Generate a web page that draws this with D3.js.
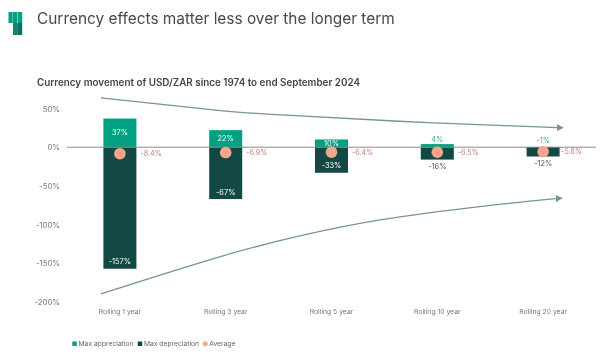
<!DOCTYPE html>
<html lang="en">

<head>
    <meta charset="UTF-8">
    <script src="https://d3js.org/d3.v7.min.js"></script>
    <title>Currency effects</title>
    <style>
        body {
            margin: 0;
            background: #fff;
        }

        svg {
            display: block;
            filter: blur(0.3px);
        }

        text {
            font-family: Inter, "Noto Sans", sans-serif;
        }
    </style>
</head>

<body>
    <div id="container"></div>
    <script>
        var categories = ["Rolling 1 year", "Rolling 3 year", "Rolling 5 year", "Rolling 10 year", "Rolling 20 year"]
        var maxAppreciation = [37, 22, 10, 4, -1]
        var maxDepreciation = [-157, -67, -33, -16, -12]
        var average = [-8.4, -6.9, -6.4, -6.5, -5.8]
        var yTicks = [50, 0, -50, -100, -150, -200]

        // trend arrows: [category position, percent]
        var upperTrend = [[-0.18, 63.7], [0.95, 47.3], [1.7, 40.4], [2.96, 31.4], [4.13, 25.3]]
        var lowerTrend = [[-0.18, -189.5], [0.95, -141.3], [1.7, -114.6], [2.46, -93.9], [3.4, -76.7], [4.12, -66.4]]

        var legendNames = ["Max appreciation", "Max depreciation", "Average"]

        var green = "#00a082", dark = "#134845", peach = "#f7a68c", arrow = "#75968f"
        var width = 602, height = 358

        var svg = d3.select("#container")
            .append("svg")
            .attr("width", width)
            .attr("height", height)

        // logo
        var logo = svg.append("g")
        logo.append("rect").attr("x", 8.5).attr("y", 12).attr("width", 4.2).attr("height", 11).attr("fill", green)
        logo.append("rect").attr("x", 13).attr("y", 12).attr("width", 4.2).attr("height", 11).attr("fill", green)
        logo.append("rect").attr("x", 17.6).attr("y", 12).attr("width", 4.6).attr("height", 11).attr("fill", green)
        logo.append("rect").attr("x", 13).attr("y", 23).attr("width", 4.2).attr("height", 12).attr("fill", "#0f8570")
        logo.append("rect").attr("x", 17.2).attr("y", 23).attr("width", 5).attr("height", 12).attr("fill", "#0c6f60")

        svg.append("text").attr("x", 37).attr("y", 23.5)
            .attr("font-size", 15.4).attr("fill", "#444b4d")
            .text("Currency effects matter less over the longer term")
        svg.append("text").attr("x", 37).attr("y", 85.5)
            .attr("font-size", 9.85).attr("font-weight", 600).attr("fill", "#3f4647")
            .text("Currency movement of USD/ZAR since 1974 to end September 2024")

        var x = d3.scaleBand().domain(categories).range([67, 596]).paddingInner(0.688).paddingOuter(0.344)
        var y = d3.scaleLinear().domain([-200, 50]).range([302, 108.5])
        var pos = d3.scaleLinear().domain([0, 4]).range([x(categories[0]) + x.bandwidth() / 2, x(categories[4]) + x.bandwidth() / 2])

        // y axis
        var yAxis = d3.axisLeft(y).tickValues(yTicks).tickSize(0).tickPadding(1).tickFormat(function (d) { return d + "%" })
        var yG = svg.append("g").attr("transform", "translate(61,0)").call(yAxis)
        yG.select(".domain").remove()
        yG.selectAll("text").attr("font-size", 7.8).attr("fill", "#777")

        // x axis labels
        var xAxis = d3.axisBottom(x).tickSize(0).tickPadding(0)
        var xG = svg.append("g").attr("transform", "translate(0,309)").call(xAxis)
        xG.select(".domain").remove()
        xG.selectAll("text").attr("font-size", 6.8).attr("fill", "#777")

        // bars
        svg.selectAll(".up").data(maxAppreciation).enter().append("rect")
            .attr("class", "up")
            .attr("x", function (d, i) { return x(categories[i]) })
            .attr("y", function (d) { return Math.min(y(d), y(0)) })
            .attr("width", x.bandwidth())
            .attr("height", function (d) { return Math.abs(y(0) - y(d)) })
            .attr("fill", green)
        svg.selectAll(".down").data(maxDepreciation).enter().append("rect")
            .attr("class", "down")
            .attr("x", function (d, i) { return x(categories[i]) })
            .attr("y", y(0))
            .attr("width", x.bandwidth())
            .attr("height", function (d) { return y(d) - y(0) })
            .attr("fill", dark)

        // zero line
        svg.append("line")
            .attr("x1", 67).attr("x2", 596)
            .attr("y1", y(0)).attr("y2", y(0))
            .attr("stroke", "#8a8a8a").attr("stroke-width", 1)

        // trend arrows
        var lineGenerator = d3.line()
            .x(function (d) { return pos(d[0]) })
            .y(function (d) { return y(d[1]) })
            .curve(d3.curveNatural)
        svg.append("defs").append("marker")
            .attr("id", "head").attr("viewBox", "0 0 7 7")
            .attr("refX", 0).attr("refY", 3.5)
            .attr("markerWidth", 7).attr("markerHeight", 7)
            .attr("markerUnits", "userSpaceOnUse").attr("orient", "auto")
            .append("path").attr("d", "M0,0L7,3.5L0,7Z").attr("fill", arrow)
        ;[upperTrend, lowerTrend].forEach(function (t) {
            svg.append("path")
                .attr("d", lineGenerator(t))
                .attr("fill", "none")
                .attr("stroke", arrow)
                .attr("stroke-width", 1.3)
                .attr("marker-end", "url(#head)")
        })

        // average dots
        svg.selectAll(".avg").data(average).enter().append("circle")
            .attr("class", "avg")
            .attr("cx", function (d, i) { return pos(i) })
            .attr("cy", function (d) { return y(d) })
            .attr("r", 5.8)
            .attr("fill", peach)
        svg.selectAll(".avgLabel").data(average).enter().append("text")
            .attr("class", "avgLabel")
            .attr("x", function (d, i) { return pos(i) + (i == 4 ? 18 : 20.5) })
            .attr("y", function (d) { return y(d) })
            .attr("dy", "0.35em")
            .attr("font-size", 7.2).attr("fill", "#c77f73")
            .text(function (d) { return d + "%" })

        // bar labels: inside when the bar has room, otherwise outside
        svg.selectAll(".upLabel").data(maxAppreciation).enter().append("text")
            .attr("class", "upLabel")
            .attr("x", function (d, i) { return pos(i) })
            .attr("y", function (d, i) { return i < 3 ? y(d / 2) : y(Math.max(d, 0)) - (i == 3 ? 5 : 6.5) })
            .attr("dy", "0.35em")
            .attr("text-anchor", "middle")
            .attr("font-size", 7.4)
            .attr("fill", function (d, i) { return i < 3 ? "#fff" : "#3fae97" })
            .text(function (d) { return d + "%" })
        svg.selectAll(".downLabel").data(maxDepreciation).enter().append("text")
            .attr("class", "downLabel")
            .attr("x", function (d, i) { return pos(i) })
            .attr("y", function (d, i) { return i < 3 ? y(d) - 7 : y(d) + 7 })
            .attr("dy", "0.35em")
            .attr("text-anchor", "middle")
            .attr("font-size", 7.4)
            .attr("fill", function (d, i) { return i < 3 ? "#fff" : "#555" })
            .text(function (d) { return d + "%" })

        // legend
        var legendX = [72.3, 137.7, 203]
        var legendColors = [green, dark, peach]
        legendNames.forEach(function (n, i) {
            if (i < 2) {
                svg.append("rect").attr("x", legendX[i]).attr("y", 341.5).attr("width", 4.5).attr("height", 4.5).attr("fill", legendColors[i])
            } else {
                svg.append("circle").attr("cx", legendX[i] + 2.2).attr("cy", 343.7).attr("r", 2.5).attr("fill", legendColors[i])
            }
            svg.append("text").attr("x", legendX[i] + 6.2).attr("y", 346.2)
                .attr("font-size", 6.75).attr("fill", "#666")
                .text(n)
        })
    </script>
</body>

</html>
